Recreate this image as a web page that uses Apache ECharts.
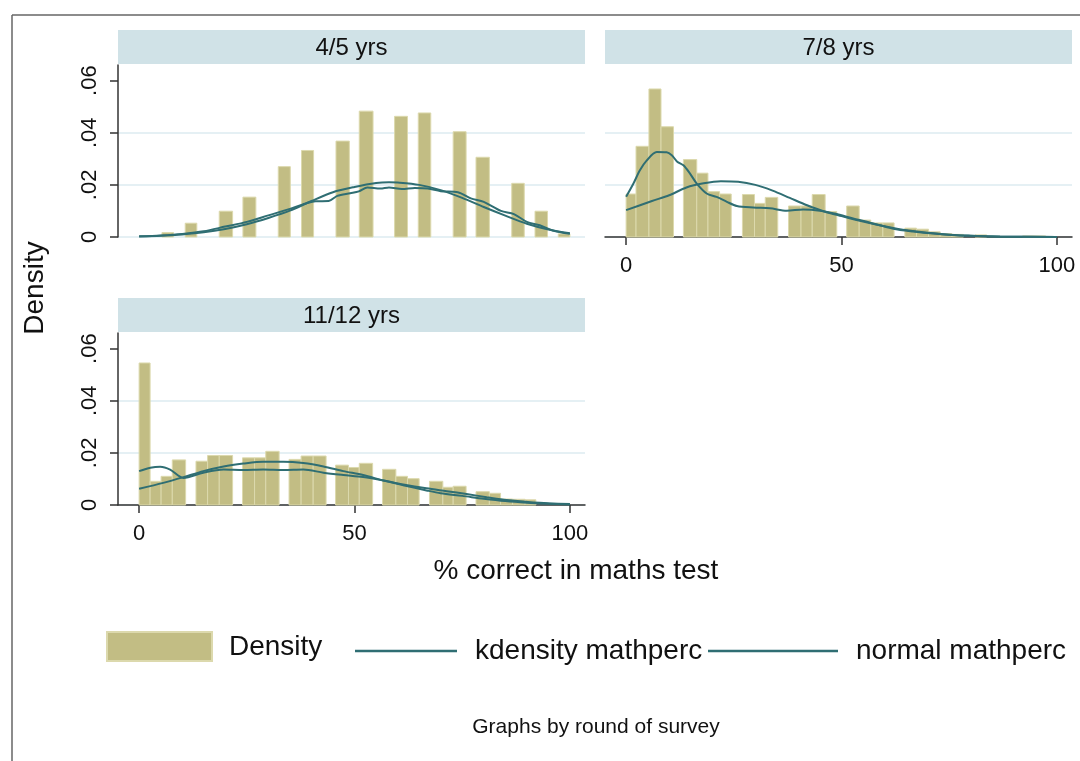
<!DOCTYPE html>
<html>
<head>
<meta charset="utf-8">
<script src="https://cdn.jsdelivr.net/npm/echarts@6/dist/echarts.min.js"></script>
<style>
  html, body { margin: 0; padding: 0; background: #fff; }
  #main { width: 1080px; height: 761px; }
</style>
</head>
<body>
<div id="main"></div>
<script>
// ---- data ----
const panelTitles = ['4/5 yrs', '7/8 yrs', '11/12 yrs']
const xTicks = [0, 50, 100]
const yTicks = [0, 0.02, 0.04, 0.06]
const yTickLabels = ['0', '.02', '.04', '.06']

// histogram bars: [bin start, bin end, density]
const hist45 = [
  [5.3, 8.0, 0.0017], [10.7, 13.4, 0.0053], [18.6, 21.7, 0.0099], [24.1, 27.1, 0.0153],
  [32.3, 35.1, 0.0270], [37.7, 40.5, 0.0332], [45.7, 48.8, 0.0368], [51.1, 54.3, 0.0483],
  [59.3, 62.3, 0.0463], [64.8, 67.7, 0.0476], [72.9, 75.9, 0.0404], [78.2, 81.3, 0.0306],
  [86.5, 89.4, 0.0206], [91.9, 94.8, 0.0099], [97.3, 100, 0.0012],
]
const hist78 = [
  [0, 2.3, 0.0165], [2.3, 5.3, 0.0348], [5.3, 8.1, 0.0568], [8.1, 11.0, 0.0423],
  [13.3, 16.4, 0.0297], [16.4, 19.0, 0.0245], [19.0, 21.7, 0.0174], [21.7, 24.4, 0.0165],
  [27.0, 29.8, 0.0163], [29.8, 32.3, 0.0129], [32.3, 35.2, 0.0152],
  [37.7, 40.6, 0.0119], [40.6, 43.2, 0.0119], [43.2, 46.2, 0.0163], [46.2, 48.9, 0.0098],
  [51.2, 54.1, 0.0119], [54.1, 56.8, 0.0065], [56.8, 59.6, 0.0054], [59.6, 62.2, 0.0054],
  [64.7, 67.4, 0.0034], [67.4, 70.2, 0.0030], [70.2, 72.9, 0.0020], [72.9, 75.6, 0.0013],
  [75.6, 78.3, 0.0010], [81.0, 83.7, 0.0008], [92.0, 97.4, 0.0004],
]
const hist1112 = [
  [0, 2.55, 0.0545], [2.55, 5.1, 0.0091], [5.1, 7.7, 0.0110], [7.7, 10.8, 0.0173],
  [13.2, 15.9, 0.0168], [15.9, 18.6, 0.0190], [18.6, 21.7, 0.0190],
  [24.0, 26.8, 0.0181], [26.8, 29.4, 0.0181], [29.4, 32.5, 0.0206],
  [34.8, 37.6, 0.0175], [37.6, 40.4, 0.0188], [40.4, 43.4, 0.0188],
  [45.6, 48.6, 0.0153], [48.6, 51.1, 0.0144], [51.1, 54.2, 0.0160],
  [56.5, 59.6, 0.0137], [59.6, 62.3, 0.0110], [62.3, 65.0, 0.0101],
  [67.4, 70.5, 0.0091], [70.5, 72.9, 0.0068], [72.9, 75.9, 0.0072],
  [78.2, 81.3, 0.0051], [81.3, 83.9, 0.0045], [83.9, 86.7, 0.0023], [86.7, 89.6, 0.0022],
  [89.6, 92.1, 0.0020],
]

// kdensity mathperc: [x, density]
const kdens45 = [
  [0, 0.0002], [5, 0.0006], [10, 0.0012], [15, 0.0022], [20, 0.0040], [25, 0.0058],
  [30, 0.0083], [35, 0.0108], [38, 0.0125], [41, 0.0137], [44, 0.0138], [46, 0.0158],
  [49, 0.0168], [51, 0.0175], [53, 0.0190], [56, 0.0186], [58, 0.0190], [61, 0.0184],
  [64, 0.0188], [67, 0.0186], [70, 0.0176], [74, 0.0172], [77, 0.0148], [80, 0.0135],
  [84, 0.0100], [87, 0.0088], [90, 0.0058], [93, 0.0045], [96, 0.0025], [100, 0.0012],
]
const kdens78 = [
  [0, 0.0154], [1.7, 0.0205], [3.2, 0.0256], [4.8, 0.0294], [7.1, 0.0326], [9.4, 0.0325],
  [10.6, 0.0314], [11.8, 0.0290], [13.3, 0.0275], [14.8, 0.0244], [16.4, 0.0205],
  [18.7, 0.0167], [21.0, 0.0154], [23.4, 0.0135], [25.7, 0.0119], [29.5, 0.0113],
  [33.4, 0.0110], [37.3, 0.0101], [41.1, 0.0106], [45.0, 0.0101], [48.9, 0.0088],
  [52.7, 0.0071], [56.6, 0.0055], [62.0, 0.0032], [66.7, 0.0021], [71.3, 0.0013],
  [77.5, 0.0006], [86.8, 0.0002], [100, 0.0000],
]
const kdens1112 = [
  [0, 0.0130], [2.6, 0.0143], [4.9, 0.0147], [7.2, 0.0136], [10.3, 0.0104], [14.9, 0.0124],
  [19.6, 0.0136], [24.2, 0.0134], [28.8, 0.0136], [33.5, 0.0134], [38.1, 0.0136],
  [42.8, 0.0124], [47.4, 0.0115], [52.0, 0.0107], [56.7, 0.0094], [61.3, 0.0079],
  [66.7, 0.0064], [71.4, 0.0053], [76.0, 0.0042], [80.7, 0.0030], [85.3, 0.0019],
  [91.5, 0.0010], [100, 0.0004],
]

// normal mathperc: [x, density]
const normal45 = [
  [0, 0.0003], [5, 0.0005], [10, 0.0010], [15, 0.0018], [20, 0.0031], [25, 0.0049],
  [30, 0.0073], [35, 0.0101], [40, 0.0138], [45, 0.0172], [50, 0.0192], [55, 0.0207],
  [58, 0.0210], [60, 0.0209], [65, 0.0200], [70, 0.0180], [75, 0.0150], [80, 0.0115],
  [85, 0.0082], [90, 0.0051], [95, 0.0029], [100, 0.0014],
]
const normal78 = [
  [0, 0.0103], [6, 0.0138], [10, 0.0160], [14, 0.0190], [18, 0.0206], [22, 0.0214],
  [26, 0.0212], [30, 0.0200], [34, 0.0178], [38, 0.0150], [42, 0.0122], [46, 0.0098],
  [50, 0.0080], [54, 0.0063], [58, 0.0048], [62, 0.0035], [66, 0.0024], [70, 0.0016],
  [75, 0.0009], [80, 0.0005], [85, 0.0002], [90, 0.0001], [100, 0.0000],
]
const normal1112 = [
  [0, 0.0062], [5.6, 0.0085], [10.3, 0.0107], [14.9, 0.0130], [19.6, 0.0148],
  [24.2, 0.0159], [28.8, 0.0166], [33.5, 0.0166], [38.1, 0.0161], [42.8, 0.0148],
  [47.4, 0.0130], [52.0, 0.0115], [56.7, 0.0094], [61.3, 0.0076], [66.7, 0.0056],
  [70, 0.0045], [75, 0.0035], [80, 0.0024], [85, 0.0015], [90, 0.0009], [95, 0.0005],
  [100, 0.0002],
]

// ---- layout / style ----
const font = 'Liberation Sans, Arial, Helvetica, sans-serif'
const barColor = '#c2bd84'
const barEdge = '#dcd9ad'
const lineColor = '#2f6e73'
const gridColor = '#dcebf0'
const stripColor = '#d0e2e7'
const axisColor = '#333'

const grids = [
  { left: 118, top: 65, width: 467, height: 172 },
  { left: 605, top: 65, width: 467, height: 172 },
  { left: 118, top: 333, width: 467, height: 172 },
]
const histData = [hist45, hist78, hist1112]
const kdensData = [kdens45, kdens78, kdens1112]
const normalData = [normal45, normal78, normal1112]
const showX = [false, true, true]
const showY = [true, false, true]

function renderBar(params, api) {
  const p0 = api.coord([api.value(0), api.value(2)])
  const p1 = api.coord([api.value(1), 0])
  return {
    type: 'rect',
    shape: { x: p0[0], y: p0[1], width: p1[0] - p0[0], height: p1[1] - p0[1] },
    style: { fill: barColor, stroke: barEdge, lineWidth: 1 },
  }
}

const xAxis = grids.map((g, i) => ({
  gridIndex: i,
  type: 'value',
  min: -4.9,
  max: 103.5,
  axisLine: { show: showX[i], onZero: false, lineStyle: { color: axisColor, width: 1.5 } },
  axisTick: { show: showX[i], length: 8, customValues: xTicks, lineStyle: { color: axisColor, width: 1.5 } },
  axisLabel: {
    show: showX[i], customValues: xTicks, margin: 18,
    fontSize: 22, fontFamily: font, color: '#111',
  },
  splitLine: { show: false },
}))

const yAxis = grids.map((g, i) => ({
  gridIndex: i,
  type: 'value',
  min: 0,
  max: 0.066,
  interval: 0.02,
  axisLine: { show: showY[i], onZero: false, lineStyle: { color: axisColor, width: 1.5 } },
  axisTick: { show: showY[i], length: 8, customValues: yTicks, lineStyle: { color: axisColor, width: 1.5 } },
  axisLabel: {
    show: showY[i], customValues: yTicks, rotate: 90, margin: 17,
    fontSize: 22, fontFamily: font, color: '#111',
    formatter: (v) => yTickLabels[Math.round(v / 0.02)],
  },
  splitLine: { show: true, showMaxLine: false, lineStyle: { color: gridColor, width: 1.5 } },
}))

const series = []
grids.forEach((g, i) => {
  series.push({
    name: 'Density',
    type: 'custom',
    xAxisIndex: i,
    yAxisIndex: i,
    renderItem: renderBar,
    encode: { x: [0, 1], y: 2 },
    data: histData[i],
    z: 2,
  })
  series.push({
    name: 'kdensity mathperc',
    type: 'line',
    xAxisIndex: i,
    yAxisIndex: i,
    smooth: 0.3,
    symbol: 'none',
    lineStyle: { color: lineColor, width: 2 },
    data: kdensData[i],
    z: 3,
  })
  series.push({
    name: 'normal mathperc',
    type: 'line',
    xAxisIndex: i,
    yAxisIndex: i,
    smooth: 0.3,
    symbol: 'none',
    lineStyle: { color: lineColor, width: 2 },
    data: normalData[i],
    z: 3,
  })
})

const graphic = [
  // outer frame edges
  { type: 'line', shape: { x1: 12, y1: 15, x2: 1080, y2: 15 }, style: { stroke: '#666', lineWidth: 1.5 } },
  { type: 'line', shape: { x1: 12, y1: 15, x2: 12, y2: 761 }, style: { stroke: '#666', lineWidth: 1.5 } },
]
// panel strips
grids.forEach((g, i) => {
  graphic.push({
    type: 'rect',
    shape: { x: g.left, y: g.top - 35, width: g.width, height: 34 },
    style: { fill: stripColor },
  })
  graphic.push({
    type: 'text',
    x: g.left + g.width / 2,
    y: g.top - 17,
    style: {
      text: panelTitles[i], font: '24px ' + font, fill: '#111',
      textAlign: 'center', textVerticalAlign: 'middle',
    },
  })
})
// axis titles
graphic.push({
  type: 'text', x: 35, y: 288, rotation: Math.PI / 2,
  style: { text: 'Density', font: '28px ' + font, fill: '#111', textAlign: 'center', textVerticalAlign: 'middle' },
})
graphic.push({
  type: 'text', x: 576, y: 571,
  style: { text: '% correct in maths test', font: '28px ' + font, fill: '#111', textAlign: 'center', textVerticalAlign: 'middle' },
})
// legend
graphic.push({
  type: 'rect', shape: { x: 107, y: 632, width: 105, height: 29 },
  style: { fill: barColor, stroke: barEdge, lineWidth: 2 },
})
graphic.push({
  type: 'text', x: 229, y: 647,
  style: { text: 'Density', font: '28px ' + font, fill: '#111', textVerticalAlign: 'middle' },
})
graphic.push({
  type: 'line', shape: { x1: 355, y1: 651, x2: 457, y2: 651 },
  style: { stroke: lineColor, lineWidth: 2.5 },
})
graphic.push({
  type: 'text', x: 475, y: 651,
  style: { text: 'kdensity mathperc', font: '28px ' + font, fill: '#111', textVerticalAlign: 'middle' },
})
graphic.push({
  type: 'line', shape: { x1: 708, y1: 651, x2: 838, y2: 651 },
  style: { stroke: lineColor, lineWidth: 2.5 },
})
graphic.push({
  type: 'text', x: 856, y: 651,
  style: { text: 'normal mathperc', font: '28px ' + font, fill: '#111', textVerticalAlign: 'middle' },
})
graphic.push({
  type: 'text', x: 596, y: 727,
  style: { text: 'Graphs by round of survey', font: '21px ' + font, fill: '#111', textAlign: 'center', textVerticalAlign: 'middle' },
})

const myChart = echarts.init(document.getElementById('main'))
myChart.setOption({
  backgroundColor: '#fff',
  animation: false,
  grid: grids,
  xAxis: xAxis,
  yAxis: yAxis,
  series: series,
  graphic: graphic,
})
</script>
</body>
</html>
